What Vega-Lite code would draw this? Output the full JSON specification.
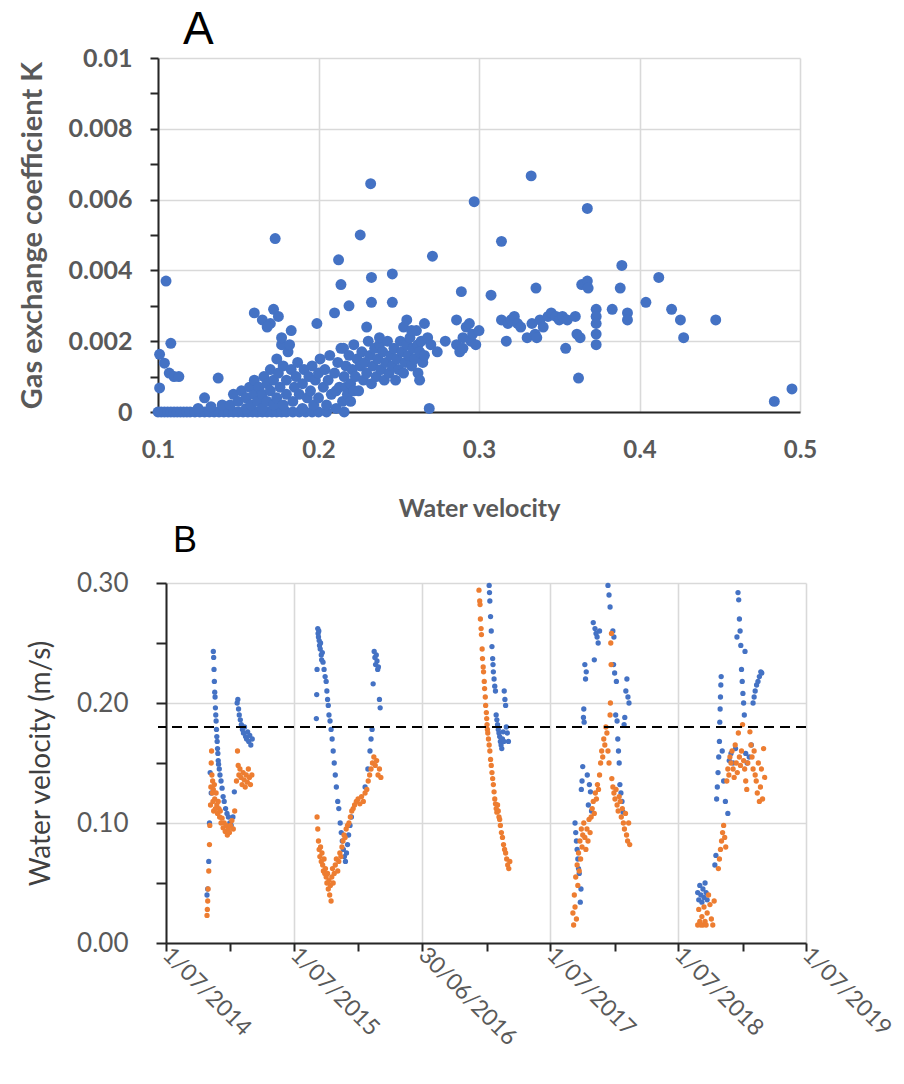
{
  "$schema": "https://vega.github.io/schema/vega-lite/v6.json",
  "padding": {"left": 18, "top": 7, "right": 10, "bottom": 0},
  "background": "white",
  "config": {
    "view": {"stroke": null},
    "axis": {
      "domainColor": "#262626", "domainWidth": 2,
      "tickColor": "#262626", "tickWidth": 2,
      "gridColor": "#d9d9d9", "gridWidth": 1.6,
      "labelColor": "#595959", "titleColor": "#595959",
      "labelFont": "Lato", "titleFont": "Lato", "labelFlush": false
    }
  },
  "datasets": {
    "a": [
      {"v":0.100,"k":0},{"v":0.102,"k":0},{"v":0.104,"k":0},{"v":0.106,"k":0},{"v":0.108,"k":0},{"v":0.110,"k":0},{"v":0.112,"k":0},{"v":0.114,"k":0},{"v":0.116,"k":0},{"v":0.118,"k":0},{"v":0.120,"k":0},{"v":0.123,"k":0},{"v":0.126,"k":0},{"v":0.129,"k":0},{"v":0.132,"k":0},{"v":0.135,"k":0},{"v":0.138,"k":0},{"v":0.141,"k":0},{"v":0.144,"k":0},{"v":0.147,"k":0},{"v":0.150,"k":0},{"v":0.153,"k":0},{"v":0.156,"k":0},{"v":0.159,"k":0},{"v":0.162,"k":0},{"v":0.165,"k":0},{"v":0.168,"k":0},{"v":0.171,"k":0},{"v":0.174,"k":0},{"v":0.177,"k":0},{"v":0.180,"k":0},{"v":0.184,"k":0},{"v":0.188,"k":0},{"v":0.192,"k":0},{"v":0.196,"k":0},{"v":0.200,"k":0},{"v":0.205,"k":0},{"v":0.216,"k":0},
      {"v":0.101,"k":0.00163},{"v":0.104,"k":0.00138},{"v":0.105,"k":0.0037},{"v":0.108,"k":0.00194},{"v":0.101,"k":0.00068},{"v":0.107,"k":0.0011},{"v":0.110,"k":0.001},{"v":0.113,"k":0.001},{"v":0.129,"k":0.0004},{"v":0.1375,"k":0.00096},{"v":0.140,"k":0.0002},{"v":0.125,"k":0.0001},{"v":0.133,"k":0.00015},
      {"v":0.145,"k":0.0002},{"v":0.147,"k":0.0005},{"v":0.150,"k":0.0003},{"v":0.152,"k":0.0006},{"v":0.155,"k":0.0001},{"v":0.155,"k":0.0004},{"v":0.157,"k":0.0007},{"v":0.158,"k":0.0002},{"v":0.160,"k":0.0005},{"v":0.160,"k":0.0009},{"v":0.162,"k":0.0003},{"v":0.163,"k":0.0007},{"v":0.165,"k":0.0001},{"v":0.165,"k":0.0005},{"v":0.166,"k":0.001},{"v":0.168,"k":0.0003},{"v":0.168,"k":0.0008},{"v":0.170,"k":0.0006},{"v":0.170,"k":0.0012},{"v":0.172,"k":0.0002},{"v":0.172,"k":0.0009},{"v":0.174,"k":0.0004},{"v":0.174,"k":0.0015},{"v":0.175,"k":0.0011},{"v":0.176,"k":0.0007},{"v":0.177,"k":0.0019},{"v":0.177,"k":0.0021},{"v":0.178,"k":0.0002},{"v":0.178,"k":0.0013},{"v":0.180,"k":0.0005},{"v":0.180,"k":0.0009},{"v":0.181,"k":0.0017},{"v":0.182,"k":0.0019},{"v":0.183,"k":0.0012},{"v":0.184,"k":0.0003},{"v":0.185,"k":0.0007},{"v":0.186,"k":0.001},{"v":0.187,"k":0.0014},{"v":0.188,"k":0.0005},{"v":0.190,"k":0.0001},{"v":0.190,"k":0.0008},{"v":0.191,"k":0.0012},{"v":0.193,"k":0.0004},{"v":0.194,"k":0.001},{"v":0.195,"k":0.0006},{"v":0.196,"k":0.0013},{"v":0.197,"k":0.0002},{"v":0.198,"k":0.0009},{"v":0.200,"k":0.0004},{"v":0.200,"k":0.0011},{"v":0.201,"k":0.0015},{"v":0.203,"k":0.0007},{"v":0.204,"k":0.0012},{"v":0.205,"k":0.0002},{"v":0.206,"k":0.0009},{"v":0.207,"k":0.0016},{"v":0.208,"k":0.0005},{"v":0.210,"k":0.0011},{"v":0.211,"k":0.0001},{"v":0.211,"k":0.0006},{"v":0.212,"k":0.0014},{"v":0.213,"k":0.0007},{"v":0.214,"k":0.0018},{"v":0.215,"k":0.0003},{"v":0.2156,"k":0.0018},{"v":0.216,"k":0.001},{"v":0.217,"k":0.0013},{"v":0.217,"k":0.0007},{"v":0.218,"k":0.0005},{"v":0.219,"k":0.0016},{"v":0.220,"k":0.0008},{"v":0.220,"k":0.0003},{"v":0.221,"k":0.0012},{"v":0.222,"k":0.0019},{"v":0.222,"k":0.0006},{"v":0.223,"k":0.001},{"v":0.224,"k":0.0015},{"v":0.225,"k":0.0006},{"v":0.226,"k":0.0013},{"v":0.227,"k":0.0017},{"v":0.228,"k":0.0009},{"v":0.229,"k":0.0014},{"v":0.230,"k":0.0011},{"v":0.230,"k":0.0024},{"v":0.231,"k":0.002},{"v":0.232,"k":0.0016},{"v":0.233,"k":0.0008},{"v":0.234,"k":0.0013},{"v":0.235,"k":0.0018},{"v":0.236,"k":0.001},{"v":0.237,"k":0.0015},{"v":0.238,"k":0.0019},{"v":0.238,"k":0.0021},{"v":0.239,"k":0.0012},{"v":0.240,"k":0.0017},{"v":0.241,"k":0.0009},{"v":0.242,"k":0.0014},{"v":0.243,"k":0.002},{"v":0.244,"k":0.0011},{"v":0.245,"k":0.0016},{"v":0.246,"k":0.0013},{"v":0.247,"k":0.0018},{"v":0.248,"k":0.0009},{"v":0.249,"k":0.0015},{"v":0.250,"k":0.0012},{"v":0.251,"k":0.002},{"v":0.252,"k":0.0017},{"v":0.253,"k":0.0011},{"v":0.253,"k":0.0024},{"v":0.254,"k":0.0014},{"v":0.255,"k":0.0019},{"v":0.255,"k":0.0026},{"v":0.256,"k":0.0016},{"v":0.257,"k":0.0021},{"v":0.258,"k":0.0013},{"v":0.258,"k":0.0023},{"v":0.259,"k":0.0018},{"v":0.260,"k":0.0015},{"v":0.261,"k":0.0023},{"v":0.262,"k":0.0011},{"v":0.262,"k":0.0019},{"v":0.263,"k":0.0017},{"v":0.263,"k":0.0009},{"v":0.264,"k":0.002},{"v":0.265,"k":0.0014},{"v":0.266,"k":0.0025},{"v":0.266,"k":0.0016},{"v":0.268,"k":0.0021},{"v":0.270,"k":0.0019},{"v":0.274,"k":0.0017},{"v":0.279,"k":0.002},{"v":0.286,"k":0.0019},{"v":0.286,"k":0.0026},{"v":0.288,"k":0.0017},{"v":0.290,"k":0.0021},{"v":0.290,"k":0.0018},{"v":0.292,"k":0.0024},{"v":0.294,"k":0.0025},{"v":0.295,"k":0.002},{"v":0.296,"k":0.0022},{"v":0.298,"k":0.0019},{"v":0.300,"k":0.0023},{"v":0.289,"k":0.0034},
      {"v":0.314,"k":0.0026},{"v":0.317,"k":0.002},{"v":0.318,"k":0.0025},{"v":0.320,"k":0.0026},{"v":0.322,"k":0.0027},{"v":0.324,"k":0.0025},{"v":0.326,"k":0.0024},{"v":0.330,"k":0.0021},{"v":0.333,"k":0.0025},{"v":0.335,"k":0.0022},{"v":0.336,"k":0.0021},{"v":0.338,"k":0.0026},{"v":0.340,"k":0.0024},{"v":0.343,"k":0.0027},{"v":0.345,"k":0.0028},{"v":0.348,"k":0.0027},{"v":0.350,"k":0.0026},{"v":0.352,"k":0.0027},{"v":0.355,"k":0.0026},{"v":0.354,"k":0.0018},{"v":0.360,"k":0.0027},{"v":0.361,"k":0.0022},{"v":0.363,"k":0.0021},{"v":0.362,"k":0.00096},{"v":0.3355,"k":0.0035},{"v":0.3075,"k":0.0033},{"v":0.373,"k":0.0029},{"v":0.373,"k":0.0027},{"v":0.373,"k":0.0025},{"v":0.373,"k":0.0022},{"v":0.373,"k":0.0019},{"v":0.364,"k":0.0036},{"v":0.3675,"k":0.0037},{"v":0.368,"k":0.0035},{"v":0.383,"k":0.0029},{"v":0.388,"k":0.0035},{"v":0.389,"k":0.00414},{"v":0.3925,"k":0.0028},{"v":0.3925,"k":0.0026},{"v":0.404,"k":0.0031},{"v":0.412,"k":0.0038},{"v":0.420,"k":0.0029},{"v":0.4255,"k":0.0026},{"v":0.4275,"k":0.0021},{"v":0.4475,"k":0.0026},{"v":0.484,"k":0.0003},{"v":0.495,"k":0.00065},
      {"v":0.173,"k":0.0049},{"v":0.2325,"k":0.00645},{"v":0.226,"k":0.005},{"v":0.2125,"k":0.0043},{"v":0.297,"k":0.00594},{"v":0.3325,"k":0.00667},{"v":0.3675,"k":0.00575},{"v":0.314,"k":0.00482},{"v":0.271,"k":0.0044},{"v":0.214,"k":0.0036},{"v":0.233,"k":0.0038},{"v":0.233,"k":0.0031},{"v":0.246,"k":0.0039},{"v":0.246,"k":0.0031},{"v":0.219,"k":0.003},{"v":0.210,"k":0.0028},{"v":0.199,"k":0.0025},{"v":0.183,"k":0.0023},{"v":0.160,"k":0.0028},{"v":0.165,"k":0.0026},{"v":0.170,"k":0.0025},{"v":0.172,"k":0.0029},{"v":0.175,"k":0.0027},{"v":0.168,"k":0.0024},{"v":0.269,"k":0.0001}
    ],
    "b": [
      {"d":"2014-10-26","v":0.040,"s":"b"},{"d":"2014-10-28","v":0.045,"s":"b"},{"d":"2014-10-31","v":0.068,"s":"b"},{"d":"2014-11-02","v":0.100,"s":"b"},{"d":"2014-11-04","v":0.142,"s":"b"},{"d":"2014-11-07","v":0.125,"s":"b"},{"d":"2014-11-13","v":0.243,"s":"b"},{"d":"2014-11-14","v":0.238,"s":"b"},{"d":"2014-11-15","v":0.228,"s":"b"},{"d":"2014-11-16","v":0.218,"s":"b"},{"d":"2014-11-17","v":0.209,"s":"b"},{"d":"2014-11-18","v":0.205,"s":"b"},{"d":"2014-11-19","v":0.196,"s":"b"},{"d":"2014-11-20","v":0.190,"s":"b"},{"d":"2014-11-21","v":0.185,"s":"b"},{"d":"2014-11-22","v":0.178,"s":"b"},{"d":"2014-11-23","v":0.172,"s":"b"},{"d":"2014-11-24","v":0.168,"s":"b"},{"d":"2014-11-25","v":0.162,"s":"b"},{"d":"2014-11-26","v":0.158,"s":"b"},{"d":"2014-11-27","v":0.152,"s":"b"},{"d":"2014-11-28","v":0.149,"s":"b"},{"d":"2014-11-30","v":0.145,"s":"b"},{"d":"2014-12-02","v":0.140,"s":"b"},{"d":"2014-12-05","v":0.135,"s":"b"},{"d":"2014-12-08","v":0.129,"s":"b"},{"d":"2014-12-11","v":0.122,"s":"b"},{"d":"2014-12-14","v":0.118,"s":"b"},{"d":"2014-12-18","v":0.112,"s":"b"},{"d":"2014-12-22","v":0.108,"s":"b"},{"d":"2014-12-26","v":0.105,"s":"b"},{"d":"2014-12-30","v":0.100,"s":"b"},{"d":"2015-01-03","v":0.098,"s":"b"},{"d":"2015-01-08","v":0.105,"s":"b"},{"d":"2015-01-12","v":0.126,"s":"b"},{"d":"2015-01-20","v":0.200,"s":"b"},{"d":"2015-01-22","v":0.203,"s":"b"},{"d":"2015-01-24","v":0.195,"s":"b"},{"d":"2015-01-26","v":0.190,"s":"b"},{"d":"2015-01-29","v":0.186,"s":"b"},{"d":"2015-02-01","v":0.182,"s":"b"},{"d":"2015-02-04","v":0.178,"s":"b"},{"d":"2015-02-07","v":0.175,"s":"b"},{"d":"2015-02-10","v":0.180,"s":"b"},{"d":"2015-02-13","v":0.172,"s":"b"},{"d":"2015-02-16","v":0.170,"s":"b"},{"d":"2015-02-19","v":0.176,"s":"b"},{"d":"2015-02-22","v":0.168,"s":"b"},{"d":"2015-02-25","v":0.173,"s":"b"},{"d":"2015-02-28","v":0.165,"s":"b"},{"d":"2015-03-04","v":0.170,"s":"b"},
      {"d":"2015-09-03","v":0.187,"s":"b"},{"d":"2015-09-04","v":0.207,"s":"b"},{"d":"2015-09-05","v":0.228,"s":"b"},{"d":"2015-09-07","v":0.262,"s":"b"},{"d":"2015-09-08","v":0.258,"s":"b"},{"d":"2015-09-09","v":0.255,"s":"b"},{"d":"2015-09-10","v":0.260,"s":"b"},{"d":"2015-09-11","v":0.252,"s":"b"},{"d":"2015-09-12","v":0.248,"s":"b"},{"d":"2015-09-14","v":0.245,"s":"b"},{"d":"2015-09-15","v":0.250,"s":"b"},{"d":"2015-09-17","v":0.240,"s":"b"},{"d":"2015-09-18","v":0.236,"s":"b"},{"d":"2015-09-20","v":0.242,"s":"b"},{"d":"2015-09-22","v":0.234,"s":"b"},{"d":"2015-09-25","v":0.228,"s":"b"},{"d":"2015-09-28","v":0.222,"s":"b"},{"d":"2015-10-01","v":0.218,"s":"b"},{"d":"2015-10-03","v":0.210,"s":"b"},{"d":"2015-10-05","v":0.203,"s":"b"},{"d":"2015-10-07","v":0.198,"s":"b"},{"d":"2015-10-09","v":0.190,"s":"b"},{"d":"2015-10-12","v":0.185,"s":"b"},{"d":"2015-10-15","v":0.178,"s":"b"},{"d":"2015-10-18","v":0.170,"s":"b"},{"d":"2015-10-21","v":0.160,"s":"b"},{"d":"2015-10-24","v":0.150,"s":"b"},{"d":"2015-10-27","v":0.140,"s":"b"},{"d":"2015-10-30","v":0.130,"s":"b"},{"d":"2015-11-03","v":0.118,"s":"b"},{"d":"2015-11-06","v":0.112,"s":"b"},{"d":"2015-11-10","v":0.100,"s":"b"},{"d":"2015-11-13","v":0.092,"s":"b"},{"d":"2015-11-16","v":0.085,"s":"b"},{"d":"2015-11-19","v":0.078,"s":"b"},{"d":"2015-11-22","v":0.072,"s":"b"},{"d":"2015-11-25","v":0.068,"s":"b"},{"d":"2015-11-28","v":0.075,"s":"b"},{"d":"2015-12-01","v":0.082,"s":"b"},{"d":"2015-12-04","v":0.090,"s":"b"},{"d":"2015-12-08","v":0.098,"s":"b"},{"d":"2015-12-12","v":0.105,"s":"b"},{"d":"2016-01-20","v":0.130,"s":"b"},{"d":"2016-01-28","v":0.145,"s":"b"},{"d":"2016-02-03","v":0.160,"s":"b"},{"d":"2016-02-06","v":0.170,"s":"b"},{"d":"2016-02-09","v":0.178,"s":"b"},{"d":"2016-02-12","v":0.216,"s":"b"},{"d":"2016-02-15","v":0.243,"s":"b"},{"d":"2016-02-17","v":0.238,"s":"b"},{"d":"2016-02-19","v":0.232,"s":"b"},{"d":"2016-02-21","v":0.240,"s":"b"},{"d":"2016-02-23","v":0.235,"s":"b"},{"d":"2016-02-25","v":0.228,"s":"b"},{"d":"2016-02-27","v":0.230,"s":"b"},{"d":"2016-03-01","v":0.203,"s":"b"},{"d":"2016-03-03","v":0.196,"s":"b"},
      {"d":"2017-01-08","v":0.298,"s":"b"},{"d":"2017-01-09","v":0.292,"s":"b"},{"d":"2017-01-10","v":0.285,"s":"b"},{"d":"2017-01-12","v":0.272,"s":"b"},{"d":"2017-01-14","v":0.260,"s":"b"},{"d":"2017-01-16","v":0.247,"s":"b"},{"d":"2017-01-18","v":0.237,"s":"b"},{"d":"2017-01-19","v":0.232,"s":"b"},{"d":"2017-01-20","v":0.226,"s":"b"},{"d":"2017-01-22","v":0.220,"s":"b"},{"d":"2017-01-24","v":0.214,"s":"b"},{"d":"2017-01-26","v":0.210,"s":"b"},{"d":"2017-01-28","v":0.190,"s":"b"},{"d":"2017-01-30","v":0.186,"s":"b"},{"d":"2017-02-01","v":0.182,"s":"b"},{"d":"2017-02-03","v":0.178,"s":"b"},{"d":"2017-02-05","v":0.175,"s":"b"},{"d":"2017-02-07","v":0.172,"s":"b"},{"d":"2017-02-09","v":0.168,"s":"b"},{"d":"2017-02-11","v":0.165,"s":"b"},{"d":"2017-02-13","v":0.162,"s":"b"},{"d":"2017-02-15","v":0.170,"s":"b"},{"d":"2017-02-17","v":0.176,"s":"b"},{"d":"2017-02-19","v":0.168,"s":"b"},{"d":"2017-02-20","v":0.210,"s":"b"},{"d":"2017-02-22","v":0.203,"s":"b"},{"d":"2017-02-24","v":0.198,"s":"b"},{"d":"2017-02-26","v":0.180,"s":"b"},{"d":"2017-03-01","v":0.175,"s":"b"},{"d":"2017-03-04","v":0.168,"s":"b"},
      {"d":"2017-09-10","v":0.100,"s":"b"},{"d":"2017-09-12","v":0.092,"s":"b"},{"d":"2017-09-14","v":0.085,"s":"b"},{"d":"2017-09-16","v":0.078,"s":"b"},{"d":"2017-09-18","v":0.070,"s":"b"},{"d":"2017-09-20","v":0.062,"s":"b"},{"d":"2017-09-22","v":0.058,"s":"b"},{"d":"2017-09-25","v":0.034,"s":"b"},{"d":"2017-09-27","v":0.045,"s":"b"},{"d":"2017-09-28","v":0.128,"s":"b"},{"d":"2017-09-30","v":0.135,"s":"b"},{"d":"2017-10-02","v":0.147,"s":"b"},{"d":"2017-10-04","v":0.188,"s":"b"},{"d":"2017-10-05","v":0.195,"s":"b"},{"d":"2017-10-06","v":0.184,"s":"b"},{"d":"2017-10-08","v":0.232,"s":"b"},{"d":"2017-10-10","v":0.220,"s":"b"},{"d":"2017-10-12","v":0.226,"s":"b"},{"d":"2017-10-15","v":0.140,"s":"b"},{"d":"2017-10-18","v":0.115,"s":"b"},{"d":"2017-10-21","v":0.132,"s":"b"},{"d":"2017-10-24","v":0.126,"s":"b"},{"d":"2017-10-27","v":0.110,"s":"b"},{"d":"2017-11-01","v":0.267,"s":"b"},{"d":"2017-11-04","v":0.236,"s":"b"},{"d":"2017-11-06","v":0.262,"s":"b"},{"d":"2017-11-09","v":0.258,"s":"b"},{"d":"2017-11-12","v":0.255,"s":"b"},{"d":"2017-11-15","v":0.250,"s":"b"},{"d":"2017-11-19","v":0.260,"s":"b"},{"d":"2017-12-13","v":0.298,"s":"b"},{"d":"2017-12-16","v":0.290,"s":"b"},{"d":"2017-12-19","v":0.280,"s":"b"},{"d":"2017-12-27","v":0.260,"s":"b"},{"d":"2017-12-29","v":0.232,"s":"b"},{"d":"2017-12-30","v":0.255,"s":"b"},{"d":"2018-01-01","v":0.225,"s":"b"},{"d":"2018-01-04","v":0.190,"s":"b"},{"d":"2018-01-06","v":0.218,"s":"b"},{"d":"2018-01-08","v":0.185,"s":"b"},{"d":"2018-01-10","v":0.170,"s":"b"},{"d":"2018-01-12","v":0.160,"s":"b"},{"d":"2018-01-14","v":0.150,"s":"b"},{"d":"2018-01-16","v":0.132,"s":"b"},{"d":"2018-01-19","v":0.125,"s":"b"},{"d":"2018-01-22","v":0.118,"s":"b"},{"d":"2018-01-25","v":0.109,"s":"b"},{"d":"2018-01-28","v":0.182,"s":"b"},{"d":"2018-01-30","v":0.188,"s":"b"},{"d":"2018-02-02","v":0.210,"s":"b"},{"d":"2018-02-05","v":0.220,"s":"b"},{"d":"2018-02-08","v":0.205,"s":"b"},{"d":"2018-02-11","v":0.200,"s":"b"},
      {"d":"2018-08-26","v":0.042,"s":"b"},{"d":"2018-08-29","v":0.036,"s":"b"},{"d":"2018-09-01","v":0.048,"s":"b"},{"d":"2018-09-04","v":0.040,"s":"b"},{"d":"2018-09-07","v":0.034,"s":"b"},{"d":"2018-09-10","v":0.045,"s":"b"},{"d":"2018-09-13","v":0.038,"s":"b"},{"d":"2018-09-16","v":0.050,"s":"b"},{"d":"2018-09-19","v":0.042,"s":"b"},{"d":"2018-09-22","v":0.036,"s":"b"},{"d":"2018-10-14","v":0.065,"s":"b"},{"d":"2018-10-17","v":0.073,"s":"b"},{"d":"2018-10-19","v":0.120,"s":"b"},{"d":"2018-10-21","v":0.130,"s":"b"},{"d":"2018-10-23","v":0.142,"s":"b"},{"d":"2018-10-25","v":0.155,"s":"b"},{"d":"2018-10-27","v":0.168,"s":"b"},{"d":"2018-10-28","v":0.184,"s":"b"},{"d":"2018-10-29","v":0.195,"s":"b"},{"d":"2018-10-30","v":0.205,"s":"b"},{"d":"2018-10-31","v":0.215,"s":"b"},{"d":"2018-11-01","v":0.222,"s":"b"},{"d":"2018-11-04","v":0.160,"s":"b"},{"d":"2018-11-08","v":0.135,"s":"b"},{"d":"2018-11-13","v":0.118,"s":"b"},{"d":"2018-11-20","v":0.108,"s":"b"},{"d":"2018-11-24","v":0.152,"s":"b"},{"d":"2018-11-29","v":0.158,"s":"b"},{"d":"2018-12-05","v":0.150,"s":"b"},{"d":"2018-12-12","v":0.162,"s":"b"},{"d":"2018-12-16","v":0.255,"s":"b"},{"d":"2018-12-19","v":0.292,"s":"b"},{"d":"2018-12-21","v":0.286,"s":"b"},{"d":"2018-12-23","v":0.270,"s":"b"},{"d":"2018-12-25","v":0.260,"s":"b"},{"d":"2018-12-27","v":0.248,"s":"b"},{"d":"2018-12-29","v":0.228,"s":"b"},{"d":"2018-12-31","v":0.218,"s":"b"},{"d":"2019-01-02","v":0.208,"s":"b"},{"d":"2019-01-04","v":0.200,"s":"b"},{"d":"2019-01-06","v":0.190,"s":"b"},{"d":"2019-01-08","v":0.243,"s":"b"},{"d":"2019-01-10","v":0.158,"s":"b"},{"d":"2019-01-14","v":0.150,"s":"b"},{"d":"2019-01-20","v":0.155,"s":"b"},{"d":"2019-01-26","v":0.165,"s":"b"},{"d":"2019-01-31","v":0.200,"s":"b"},{"d":"2019-02-03","v":0.205,"s":"b"},{"d":"2019-02-06","v":0.210,"s":"b"},{"d":"2019-02-10","v":0.215,"s":"b"},{"d":"2019-02-14","v":0.218,"s":"b"},{"d":"2019-02-18","v":0.222,"s":"b"},{"d":"2019-02-22","v":0.226,"s":"b"},{"d":"2019-02-25","v":0.225,"s":"b"},
      {"d":"2014-10-26","v":0.023,"s":"o"},{"d":"2014-10-27","v":0.028,"s":"o"},{"d":"2014-10-28","v":0.035,"s":"o"},{"d":"2014-10-29","v":0.045,"s":"o"},{"d":"2014-10-31","v":0.060,"s":"o"},{"d":"2014-11-02","v":0.082,"s":"o"},{"d":"2014-11-03","v":0.098,"s":"o"},{"d":"2014-11-05","v":0.115,"s":"o"},{"d":"2014-11-06","v":0.130,"s":"o"},{"d":"2014-11-07","v":0.150,"s":"o"},{"d":"2014-11-08","v":0.160,"s":"o"},{"d":"2014-11-09","v":0.140,"s":"o"},{"d":"2014-11-10","v":0.125,"s":"o"},{"d":"2014-11-11","v":0.135,"s":"o"},{"d":"2014-11-12","v":0.118,"s":"o"},{"d":"2014-11-13","v":0.128,"s":"o"},{"d":"2014-11-14","v":0.110,"s":"o"},{"d":"2014-11-16","v":0.132,"s":"o"},{"d":"2014-11-17","v":0.120,"s":"o"},{"d":"2014-11-19","v":0.112,"s":"o"},{"d":"2014-11-21","v":0.125,"s":"o"},{"d":"2014-11-23","v":0.115,"s":"o"},{"d":"2014-11-25","v":0.108,"s":"o"},{"d":"2014-11-27","v":0.118,"s":"o"},{"d":"2014-11-29","v":0.112,"s":"o"},{"d":"2014-12-01","v":0.105,"s":"o"},{"d":"2014-12-03","v":0.110,"s":"o"},{"d":"2014-12-05","v":0.100,"s":"o"},{"d":"2014-12-08","v":0.104,"s":"o"},{"d":"2014-12-11","v":0.096,"s":"o"},{"d":"2014-12-14","v":0.100,"s":"o"},{"d":"2014-12-17","v":0.093,"s":"o"},{"d":"2014-12-20","v":0.098,"s":"o"},{"d":"2014-12-23","v":0.090,"s":"o"},{"d":"2014-12-26","v":0.095,"s":"o"},{"d":"2014-12-29","v":0.092,"s":"o"},{"d":"2015-01-01","v":0.098,"s":"o"},{"d":"2015-01-05","v":0.102,"s":"o"},{"d":"2015-01-09","v":0.095,"s":"o"},{"d":"2015-01-13","v":0.110,"s":"o"},{"d":"2015-01-18","v":0.135,"s":"o"},{"d":"2015-01-21","v":0.160,"s":"o"},{"d":"2015-01-23","v":0.148,"s":"o"},{"d":"2015-01-25","v":0.140,"s":"o"},{"d":"2015-01-28","v":0.145,"s":"o"},{"d":"2015-01-31","v":0.138,"s":"o"},{"d":"2015-02-03","v":0.132,"s":"o"},{"d":"2015-02-06","v":0.142,"s":"o"},{"d":"2015-02-09","v":0.136,"s":"o"},{"d":"2015-02-12","v":0.130,"s":"o"},{"d":"2015-02-15","v":0.140,"s":"o"},{"d":"2015-02-18","v":0.134,"s":"o"},{"d":"2015-02-21","v":0.145,"s":"o"},{"d":"2015-02-24","v":0.138,"s":"o"},{"d":"2015-02-27","v":0.132,"s":"o"},{"d":"2015-03-03","v":0.140,"s":"o"},
      {"d":"2015-09-05","v":0.105,"s":"o"},{"d":"2015-09-07","v":0.095,"s":"o"},{"d":"2015-09-09","v":0.085,"s":"o"},{"d":"2015-09-11","v":0.078,"s":"o"},{"d":"2015-09-13","v":0.072,"s":"o"},{"d":"2015-09-15","v":0.080,"s":"o"},{"d":"2015-09-17","v":0.068,"s":"o"},{"d":"2015-09-19","v":0.075,"s":"o"},{"d":"2015-09-21","v":0.065,"s":"o"},{"d":"2015-09-23","v":0.060,"s":"o"},{"d":"2015-09-25","v":0.070,"s":"o"},{"d":"2015-09-27","v":0.058,"s":"o"},{"d":"2015-09-29","v":0.062,"s":"o"},{"d":"2015-10-01","v":0.055,"s":"o"},{"d":"2015-10-03","v":0.050,"s":"o"},{"d":"2015-10-05","v":0.058,"s":"o"},{"d":"2015-10-07","v":0.045,"s":"o"},{"d":"2015-10-09","v":0.052,"s":"o"},{"d":"2015-10-11","v":0.040,"s":"o"},{"d":"2015-10-13","v":0.048,"s":"o"},{"d":"2015-10-15","v":0.035,"s":"o"},{"d":"2015-10-17","v":0.055,"s":"o"},{"d":"2015-10-19","v":0.062,"s":"o"},{"d":"2015-10-21","v":0.050,"s":"o"},{"d":"2015-10-24","v":0.058,"s":"o"},{"d":"2015-10-27","v":0.065,"s":"o"},{"d":"2015-10-30","v":0.070,"s":"o"},{"d":"2015-11-03","v":0.060,"s":"o"},{"d":"2015-11-06","v":0.068,"s":"o"},{"d":"2015-11-09","v":0.075,"s":"o"},{"d":"2015-11-12","v":0.072,"s":"o"},{"d":"2015-11-15","v":0.080,"s":"o"},{"d":"2015-11-18","v":0.085,"s":"o"},{"d":"2015-11-21","v":0.090,"s":"o"},{"d":"2015-11-24","v":0.088,"s":"o"},{"d":"2015-11-27","v":0.095,"s":"o"},{"d":"2015-12-01","v":0.098,"s":"o"},{"d":"2015-12-05","v":0.100,"s":"o"},{"d":"2015-12-09","v":0.105,"s":"o"},{"d":"2015-12-13","v":0.110,"s":"o"},{"d":"2015-12-17","v":0.112,"s":"o"},{"d":"2015-12-21","v":0.115,"s":"o"},{"d":"2015-12-26","v":0.118,"s":"o"},{"d":"2015-12-31","v":0.120,"s":"o"},{"d":"2016-01-05","v":0.116,"s":"o"},{"d":"2016-01-10","v":0.122,"s":"o"},{"d":"2016-01-15","v":0.118,"s":"o"},{"d":"2016-01-20","v":0.125,"s":"o"},{"d":"2016-01-25","v":0.128,"s":"o"},{"d":"2016-01-29","v":0.135,"s":"o"},{"d":"2016-02-02","v":0.140,"s":"o"},{"d":"2016-02-06","v":0.145,"s":"o"},{"d":"2016-02-10","v":0.150,"s":"o"},{"d":"2016-02-14","v":0.155,"s":"o"},{"d":"2016-02-18","v":0.148,"s":"o"},{"d":"2016-02-22","v":0.152,"s":"o"},{"d":"2016-02-26","v":0.140,"s":"o"},{"d":"2016-03-01","v":0.145,"s":"o"},{"d":"2016-03-05","v":0.138,"s":"o"},
      {"d":"2016-12-10","v":0.294,"s":"o"},{"d":"2016-12-12","v":0.285,"s":"o"},{"d":"2016-12-13","v":0.282,"s":"o"},{"d":"2016-12-14","v":0.270,"s":"o"},{"d":"2016-12-16","v":0.262,"s":"o"},{"d":"2016-12-17","v":0.257,"s":"o"},{"d":"2016-12-19","v":0.245,"s":"o"},{"d":"2016-12-20","v":0.237,"s":"o"},{"d":"2016-12-22","v":0.230,"s":"o"},{"d":"2016-12-23","v":0.226,"s":"o"},{"d":"2016-12-25","v":0.218,"s":"o"},{"d":"2016-12-26","v":0.212,"s":"o"},{"d":"2016-12-28","v":0.205,"s":"o"},{"d":"2016-12-29","v":0.198,"s":"o"},{"d":"2016-12-31","v":0.192,"s":"o"},{"d":"2017-01-01","v":0.187,"s":"o"},{"d":"2017-01-02","v":0.182,"s":"o"},{"d":"2017-01-03","v":0.178,"s":"o"},{"d":"2017-01-04","v":0.175,"s":"o"},{"d":"2017-01-06","v":0.170,"s":"o"},{"d":"2017-01-08","v":0.165,"s":"o"},{"d":"2017-01-10","v":0.160,"s":"o"},{"d":"2017-01-12","v":0.153,"s":"o"},{"d":"2017-01-14","v":0.148,"s":"o"},{"d":"2017-01-16","v":0.142,"s":"o"},{"d":"2017-01-18","v":0.137,"s":"o"},{"d":"2017-01-20","v":0.132,"s":"o"},{"d":"2017-01-22","v":0.126,"s":"o"},{"d":"2017-01-24","v":0.120,"s":"o"},{"d":"2017-01-26","v":0.116,"s":"o"},{"d":"2017-01-28","v":0.112,"s":"o"},{"d":"2017-01-30","v":0.109,"s":"o"},{"d":"2017-02-01","v":0.115,"s":"o"},{"d":"2017-02-03","v":0.110,"s":"o"},{"d":"2017-02-05","v":0.105,"s":"o"},{"d":"2017-02-07","v":0.103,"s":"o"},{"d":"2017-02-09","v":0.098,"s":"o"},{"d":"2017-02-12","v":0.092,"s":"o"},{"d":"2017-02-15","v":0.088,"s":"o"},{"d":"2017-02-18","v":0.082,"s":"o"},{"d":"2017-02-21","v":0.078,"s":"o"},{"d":"2017-02-24","v":0.075,"s":"o"},{"d":"2017-02-27","v":0.070,"s":"o"},{"d":"2017-03-02","v":0.065,"s":"o"},{"d":"2017-03-05","v":0.062,"s":"o"},{"d":"2017-03-08","v":0.068,"s":"o"},
      {"d":"2017-09-04","v":0.025,"s":"o"},{"d":"2017-09-06","v":0.015,"s":"o"},{"d":"2017-09-08","v":0.040,"s":"o"},{"d":"2017-09-10","v":0.030,"s":"o"},{"d":"2017-09-12","v":0.055,"s":"o"},{"d":"2017-09-14","v":0.020,"s":"o"},{"d":"2017-09-16","v":0.065,"s":"o"},{"d":"2017-09-18","v":0.048,"s":"o"},{"d":"2017-09-20","v":0.075,"s":"o"},{"d":"2017-09-22","v":0.060,"s":"o"},{"d":"2017-09-24","v":0.085,"s":"o"},{"d":"2017-09-26","v":0.070,"s":"o"},{"d":"2017-09-28","v":0.095,"s":"o"},{"d":"2017-09-30","v":0.080,"s":"o"},{"d":"2017-10-02","v":0.090,"s":"o"},{"d":"2017-10-05","v":0.100,"s":"o"},{"d":"2017-10-08","v":0.088,"s":"o"},{"d":"2017-10-11","v":0.078,"s":"o"},{"d":"2017-10-14","v":0.095,"s":"o"},{"d":"2017-10-17","v":0.085,"s":"o"},{"d":"2017-10-20","v":0.103,"s":"o"},{"d":"2017-10-23","v":0.092,"s":"o"},{"d":"2017-10-26","v":0.105,"s":"o"},{"d":"2017-10-29","v":0.112,"s":"o"},{"d":"2017-11-01","v":0.118,"s":"o"},{"d":"2017-11-04","v":0.108,"s":"o"},{"d":"2017-11-07","v":0.125,"s":"o"},{"d":"2017-11-10","v":0.120,"s":"o"},{"d":"2017-11-13","v":0.132,"s":"o"},{"d":"2017-11-16","v":0.128,"s":"o"},{"d":"2017-11-19","v":0.140,"s":"o"},{"d":"2017-11-22","v":0.150,"s":"o"},{"d":"2017-11-25","v":0.160,"s":"o"},{"d":"2017-11-28","v":0.155,"s":"o"},{"d":"2017-12-01","v":0.170,"s":"o"},{"d":"2017-12-04","v":0.165,"s":"o"},{"d":"2017-12-07","v":0.180,"s":"o"},{"d":"2017-12-10","v":0.175,"s":"o"},{"d":"2017-12-13","v":0.160,"s":"o"},{"d":"2017-12-16","v":0.150,"s":"o"},{"d":"2017-12-19","v":0.190,"s":"o"},{"d":"2017-12-20","v":0.200,"s":"o"},{"d":"2017-12-21","v":0.250,"s":"o"},{"d":"2017-12-22","v":0.232,"s":"o"},{"d":"2017-12-23","v":0.258,"s":"o"},{"d":"2017-12-24","v":0.137,"s":"o"},{"d":"2017-12-27","v":0.130,"s":"o"},{"d":"2017-12-30","v":0.125,"s":"o"},{"d":"2018-01-02","v":0.120,"s":"o"},{"d":"2018-01-05","v":0.128,"s":"o"},{"d":"2018-01-08","v":0.115,"s":"o"},{"d":"2018-01-11","v":0.110,"s":"o"},{"d":"2018-01-14","v":0.122,"s":"o"},{"d":"2018-01-17","v":0.118,"s":"o"},{"d":"2018-01-20","v":0.105,"s":"o"},{"d":"2018-01-23","v":0.112,"s":"o"},{"d":"2018-01-26","v":0.100,"s":"o"},{"d":"2018-01-29","v":0.095,"s":"o"},{"d":"2018-02-01","v":0.108,"s":"o"},{"d":"2018-02-04","v":0.090,"s":"o"},{"d":"2018-02-07","v":0.085,"s":"o"},{"d":"2018-02-10","v":0.100,"s":"o"},{"d":"2018-02-13","v":0.082,"s":"o"},
      {"d":"2018-08-26","v":0.015,"s":"o"},{"d":"2018-08-29","v":0.028,"s":"o"},{"d":"2018-09-01","v":0.018,"s":"o"},{"d":"2018-09-04","v":0.015,"s":"o"},{"d":"2018-09-07","v":0.022,"s":"o"},{"d":"2018-09-10","v":0.015,"s":"o"},{"d":"2018-09-13","v":0.030,"s":"o"},{"d":"2018-09-16","v":0.018,"s":"o"},{"d":"2018-09-19","v":0.015,"s":"o"},{"d":"2018-09-22","v":0.025,"s":"o"},{"d":"2018-09-26","v":0.040,"s":"o"},{"d":"2018-09-30","v":0.032,"s":"o"},{"d":"2018-10-04","v":0.020,"s":"o"},{"d":"2018-10-08","v":0.015,"s":"o"},{"d":"2018-10-12","v":0.035,"s":"o"},{"d":"2018-10-24","v":0.062,"s":"o"},{"d":"2018-10-27","v":0.070,"s":"o"},{"d":"2018-10-30","v":0.078,"s":"o"},{"d":"2018-11-02","v":0.085,"s":"o"},{"d":"2018-11-05","v":0.092,"s":"o"},{"d":"2018-11-08","v":0.098,"s":"o"},{"d":"2018-11-11","v":0.088,"s":"o"},{"d":"2018-11-14","v":0.080,"s":"o"},{"d":"2018-11-17","v":0.135,"s":"o"},{"d":"2018-11-20","v":0.145,"s":"o"},{"d":"2018-11-23","v":0.140,"s":"o"},{"d":"2018-11-26","v":0.155,"s":"o"},{"d":"2018-11-29","v":0.150,"s":"o"},{"d":"2018-12-02","v":0.160,"s":"o"},{"d":"2018-12-05","v":0.145,"s":"o"},{"d":"2018-12-08","v":0.138,"s":"o"},{"d":"2018-12-11","v":0.165,"s":"o"},{"d":"2018-12-14","v":0.150,"s":"o"},{"d":"2018-12-17","v":0.142,"s":"o"},{"d":"2018-12-20","v":0.175,"s":"o"},{"d":"2018-12-23","v":0.155,"s":"o"},{"d":"2018-12-26","v":0.148,"s":"o"},{"d":"2018-12-29","v":0.160,"s":"o"},{"d":"2019-01-01","v":0.182,"s":"o"},{"d":"2019-01-04","v":0.152,"s":"o"},{"d":"2019-01-07","v":0.145,"s":"o"},{"d":"2019-01-10","v":0.135,"s":"o"},{"d":"2019-01-13","v":0.128,"s":"o"},{"d":"2019-01-16","v":0.150,"s":"o"},{"d":"2019-01-22","v":0.176,"s":"o"},{"d":"2019-01-25","v":0.165,"s":"o"},{"d":"2019-01-28","v":0.155,"s":"o"},{"d":"2019-01-31","v":0.145,"s":"o"},{"d":"2019-02-03","v":0.160,"s":"o"},{"d":"2019-02-06","v":0.140,"s":"o"},{"d":"2019-02-09","v":0.135,"s":"o"},{"d":"2019-02-12","v":0.125,"s":"o"},{"d":"2019-02-15","v":0.150,"s":"o"},{"d":"2019-02-18","v":0.118,"s":"o"},{"d":"2019-02-21","v":0.130,"s":"o"},{"d":"2019-02-24","v":0.145,"s":"o"},{"d":"2019-02-27","v":0.120,"s":"o"},{"d":"2019-03-02","v":0.162,"s":"o"},{"d":"2019-03-05","v":0.138,"s":"o"}
    ],
    "ref": [{"t": 0.18}]
  },
  "concat": [
    {
      "width": 642, "height": 354,
      "title": {"text": "A", "anchor": "start", "frame": "group", "fontSize": 46, "fontWeight": "normal", "font": "Liberation Sans", "color": "black", "dx": 25, "offset": -8},
      "data": {"name": "a"},
      "mark": {"type": "circle", "color": "#4472C4", "opacity": 1, "size": 120},
      "encoding": {
        "x": {"field": "v", "type": "quantitative",
          "scale": {"domain": [0.1, 0.5], "nice": false, "zero": false},
          "axis": {"title": "Water velocity", "values": [0.1, 0.2, 0.3, 0.4, 0.5], "format": ".1f", "ticks": false,
            "labelFontSize": 24, "labelFontWeight": "bold", "labelPadding": 26,
            "titleFontSize": 25, "titleFontWeight": "bold", "titlePadding": 34}},
        "y": {"field": "k", "type": "quantitative",
          "scale": {"domain": [0, 0.01], "nice": false},
          "axis": {"title": "Gas exchange coefficient K",
            "values": [0, 0.001, 0.002, 0.003, 0.004, 0.005, 0.006, 0.007, 0.008, 0.009, 0.01],
            "labelExpr": "round(datum.value*1000) % 2 == 0 ? toString(round(datum.value*1000)/1000) : ''",
            "gridOpacity": {"condition": {"test": "round(datum.value*1000) % 2 == 1", "value": 0}, "value": 1},
            "tickSize": 8, "labelFontSize": 25, "labelFontWeight": "bold", "labelPadding": 18,
            "titleFontSize": 29, "titleFontWeight": "bold", "titlePadding": 21}}
      }
    },
    {
      "width": 648, "height": 360,
      "title": {"text": "B", "anchor": "start", "frame": "group", "fontSize": 36, "fontWeight": "normal", "font": "Liberation Sans", "color": "black", "dx": 15, "offset": 10},
      "layer": [
        {
          "data": {"name": "b"},
          "mark": {"type": "circle", "opacity": 1, "size": 28},
          "encoding": {
            "x": {"field": "d", "type": "temporal",
              "scale": {"domain": [{"year": 2014, "month": 7, "date": 1}, {"year": 2019, "month": 7, "date": 1}], "nice": false, "range": [8, 648]},
              "axis": {"title": null,
                "values": [{"year": 2014, "month": 7, "date": 1}, {"year": 2015, "month": 1, "date": 1}, {"year": 2015, "month": 7, "date": 1}, {"year": 2016, "month": 1, "date": 1}, {"year": 2016, "month": 6, "date": 30}, {"year": 2017, "month": 1, "date": 1}, {"year": 2017, "month": 7, "date": 1}, {"year": 2018, "month": 1, "date": 1}, {"year": 2018, "month": 7, "date": 1}, {"year": 2019, "month": 1, "date": 1}, {"year": 2019, "month": 7, "date": 1}],
                "labelExpr": "month(datum.value) == 0 ? '' : date(datum.value) + '/' + timeFormat(datum.value, '%m/%Y')",
                "gridOpacity": {"condition": {"test": "month(datum.value) == 0", "value": 0}, "value": 1},
                "tickSize": 8, "labelAngle": 45, "labelAlign": "left", "labelBaseline": "middle",
                "labelFontSize": 23, "labelPadding": 0, "labelOverlap": false, "labelBound": false}},
            "y": {"field": "v", "type": "quantitative",
              "scale": {"domain": [0, 0.3], "nice": false},
              "axis": {"title": "Water velocity (m/s)", "offset": -8,
                "values": [0, 0.05, 0.1, 0.15, 0.2, 0.25, 0.3],
                "labelExpr": "round(datum.value*100) % 10 == 0 ? format(datum.value, '.2f') : ''",
                "gridOpacity": {"condition": {"test": "round(datum.value*100) % 10 != 0", "value": 0}, "value": 1},
                "tickSize": 10, "labelFontSize": 26, "labelPadding": 28,
                "titleFontSize": 28, "titleFontWeight": "normal", "titleColor": "#404040", "titlePadding": 21}},
            "color": {"field": "s", "type": "nominal", "scale": {"domain": ["b", "o"], "range": ["#4472C4", "#ED7D31"]}, "legend": null}
          }
        },
        {
          "data": {"name": "ref"},
          "mark": {"type": "rule", "color": "black", "strokeWidth": 2.2, "strokeDash": [10, 6]},
          "encoding": {"y": {"field": "t", "type": "quantitative"}}
        }
      ]
    }
  ],
  "columns": 1,
  "align": "none",
  "spacing": 2
}
